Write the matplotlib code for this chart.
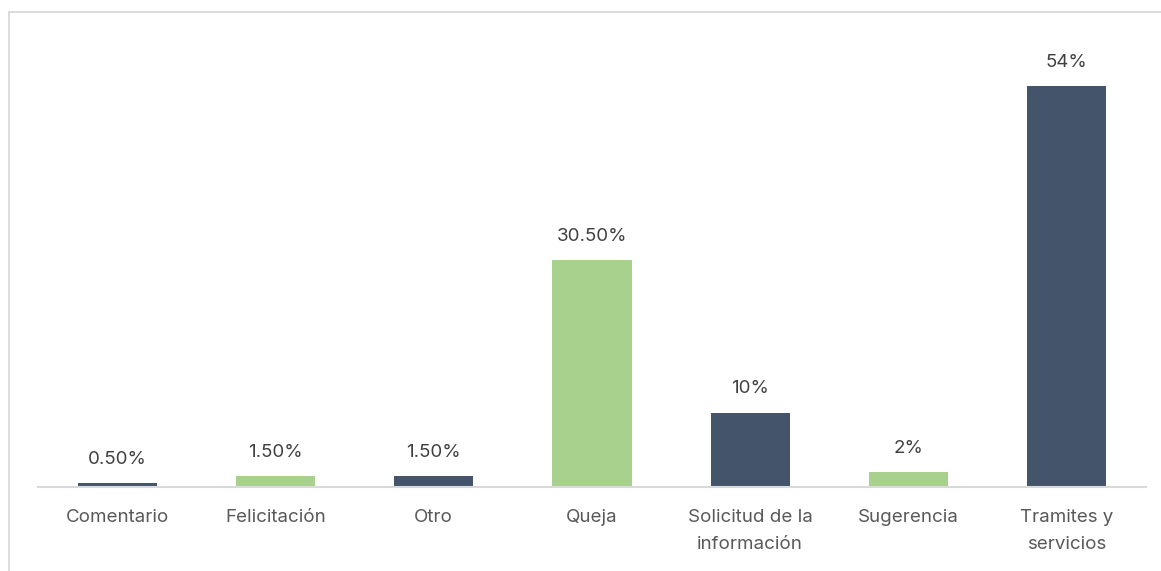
import matplotlib.pyplot as plt
from matplotlib.patches import Rectangle

categorias = ['Comentario', 'Felicitación', 'Otro', 'Queja',
              'Solicitud de la\ninformación', 'Sugerencia', 'Tramites y\nservicios']
valores = [0.5, 1.5, 1.5, 30.5, 10, 2, 54]
etiquetas = ['0.50%', '1.50%', '1.50%', '30.50%', '10%', '2%', '54%']
colores = ['#44546A', '#A9D18E', '#44546A', '#A9D18E', '#44546A', '#A9D18E', '#44546A']

plt.rcParams['font.family'] = ['Inter', 'DejaVu Sans']

W, H = 1161, 571
fig = plt.figure(figsize=(W / 100, H / 100), dpi=100)
fig.patches.append(Rectangle((9 / W, -0.1), 1.2, 1 - 12 / H + 0.1, transform=fig.transFigure,
                             fill=False, edgecolor='#D9D9D9', linewidth=1.3))

ax = fig.add_axes([38 / W, 84 / H, 1108 / W, 467 / H])
x = range(len(categorias))
bars = ax.bar(x, valores, width=0.5, color=colores)
ax.set_xlim(-0.5, len(categorias) - 0.5)
ax.set_ylim(0, 467 / 7.43)

for b, t in zip(bars, etiquetas):
    ax.annotate(t, (b.get_x() + b.get_width() / 2, b.get_height()), xytext=(0, 11),
                textcoords='offset points', ha='center', va='bottom',
                fontsize=13.5, color='#404040')

ax.set_xticks(list(x))
ax.set_xticklabels(categorias, fontsize=13.5, color='#595959', linespacing=1.75)
ax.tick_params(axis='x', length=0, pad=16)
ax.set_yticks([])
for s in ['top', 'right', 'left']:
    ax.spines[s].set_visible(False)
ax.spines['bottom'].set_color('#D9D9D9')
ax.spines['bottom'].set_linewidth(1.5)

fig.savefig('out.png', dpi=100)
